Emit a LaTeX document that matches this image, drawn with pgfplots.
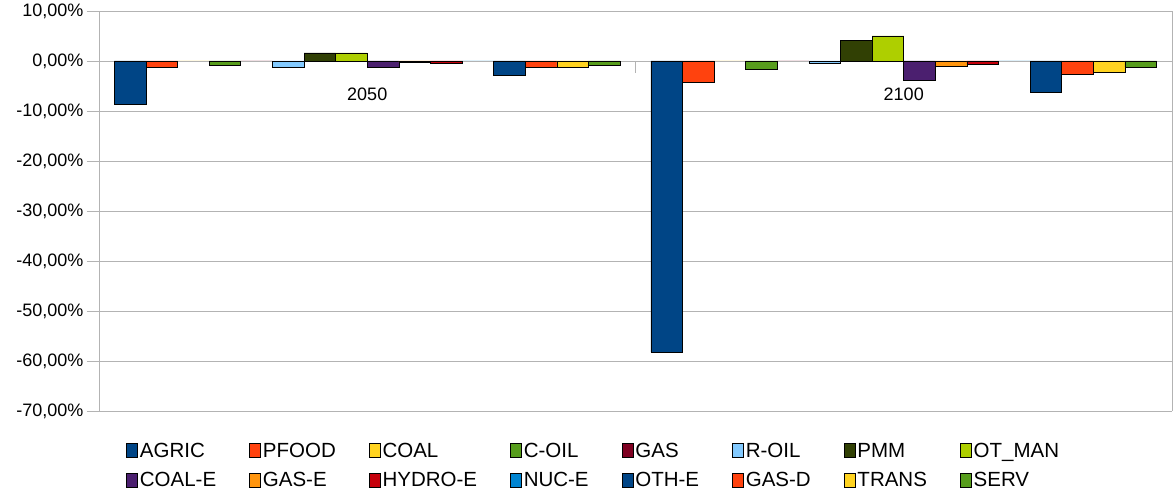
\documentclass[border=0pt]{standalone}
\usepackage{fontspec}
\setmainfont{Liberation Sans}
\usepackage{pgfplots}
\pgfplotsset{compat=1.18}

% default office palette
\definecolor{pA}{HTML}{004586}
\definecolor{pB}{HTML}{FF420E}
\definecolor{pC}{HTML}{FFD320}
\definecolor{pD}{HTML}{579D1C}
\definecolor{pE}{HTML}{7E0021}
\definecolor{pF}{HTML}{83CAFF}
\definecolor{pG}{HTML}{314004}
\definecolor{pH}{HTML}{AECF00}
\definecolor{pI}{HTML}{4B1F6F}
\definecolor{pJ}{HTML}{FF950E}
\definecolor{pK}{HTML}{C5000B}
\definecolor{pL}{HTML}{0084D1}
\definecolor{gridgray}{HTML}{B3B3B3}

\newcommand{\lblfont}{\fontsize{18}{22}\selectfont}
\newcommand{\legfont}{\fontsize{20.5}{24}\selectfont}

\begin{document}
\begin{tikzpicture}
\begin{axis}[
  scale only axis, width=1073pt, height=400pt,
  xmin=-0.5, xmax=1.5, ymin=-70, ymax=10,
  ybar=0pt, bar width=31.6pt,
  axis x line*=middle, axis y line*=box,
  hide obscured x ticks=false, hide obscured y ticks=false,
  axis line style={draw=gridgray, line width=0.9pt},
  ytick={-70,-60,...,10}, ytick pos=left, ytick align=outside,
  ymajorgrids, grid style={draw=gridgray, line width=0.9pt},
  major tick length=12pt, tick style={draw=gridgray, line width=0.9pt},
  xtick={0.5}, xticklabels={}, xtick align=outside,
  extra x ticks={0,1}, extra x tick labels={2050,2100},
  extra x tick style={major tick length=0pt, grid=none,
    xticklabel style={yshift=-23pt}},
  yticklabel={\pgfmathprintnumber[fixed,fixed zerofill,precision=2,use comma,assume math mode=true]{\tick}\%},
  tick label style={font=\lblfont},
  every axis plot/.append style={draw=black, line width=0.7pt},
  legend columns=8, legend cell align=left,
  legend image code/.code={\draw[#1,draw=black,line width=0.7pt] (0pt,-7pt) rectangle (11pt,7pt);},
  legend style={at={(0.461,-0.074)}, anchor=north, draw=none, font=\legfont,
    row sep=10pt, inner sep=0pt,
    /tikz/every even column/.append style={column sep=31pt}},
]
\coordinate (bl) at (rel axis cs:0,0);
\coordinate (tr) at (rel axis cs:1,1);
% 2050 at x=0, 2100 at x=1
\addplot[fill=pA] coordinates {(0,-8.7) (1,-58.2)};
\addlegendentry{AGRIC}
\addplot[fill=pB] coordinates {(0,-1.2) (1,-4.3)};
\addlegendentry{PFOOD}
\addplot[fill=pC, draw=none] coordinates {(0,0) (1,0)};
\addlegendentry{COAL}
\addplot[fill=pD] coordinates {(0,-0.8) (1,-1.6)};
\addlegendentry{C-OIL}
\addplot[fill=pE, draw=none] coordinates {(0,0) (1,0)};
\addlegendentry{GAS}
\addplot[fill=pF] coordinates {(0,-1.2) (1,-0.4)};
\addlegendentry{R-OIL}
\addplot[fill=pG] coordinates {(0,1.6) (1,4.1)};
\addlegendentry{PMM}
\addplot[fill=pH] coordinates {(0,1.6) (1,5.0)};
\addlegendentry{OT\_MAN}
\addplot[fill=pI] coordinates {(0,-1.2) (1,-3.9)};
\addlegendentry{COAL-E}
\addplot[fill=pJ] coordinates {(0,-0.3) (1,-1.1)};
\addlegendentry{GAS-E}
\addplot[fill=pK] coordinates {(0,-0.4) (1,-0.7)};
\addlegendentry{HYDRO-E}
\addplot[fill=pL, draw=none] coordinates {(0,0) (1,0)};
\addlegendentry{NUC-E}
\addplot[fill=pA] coordinates {(0,-2.8) (1,-6.3)};
\addlegendentry{OTH-E}
\addplot[fill=pB] coordinates {(0,-1.2) (1,-2.7)};
\addlegendentry{GAS-D}
\addplot[fill=pC] coordinates {(0,-1.2) (1,-2.3)};
\addlegendentry{TRANS}
\addplot[fill=pD] coordinates {(0,-0.8) (1,-1.2)};
\addlegendentry{SERV}
\end{axis}
\pgfresetboundingbox
\path ([shift={(-99pt,-84pt)}]bl) rectangle ([shift={(1pt,11pt)}]tr);
\end{tikzpicture}
\end{document}
